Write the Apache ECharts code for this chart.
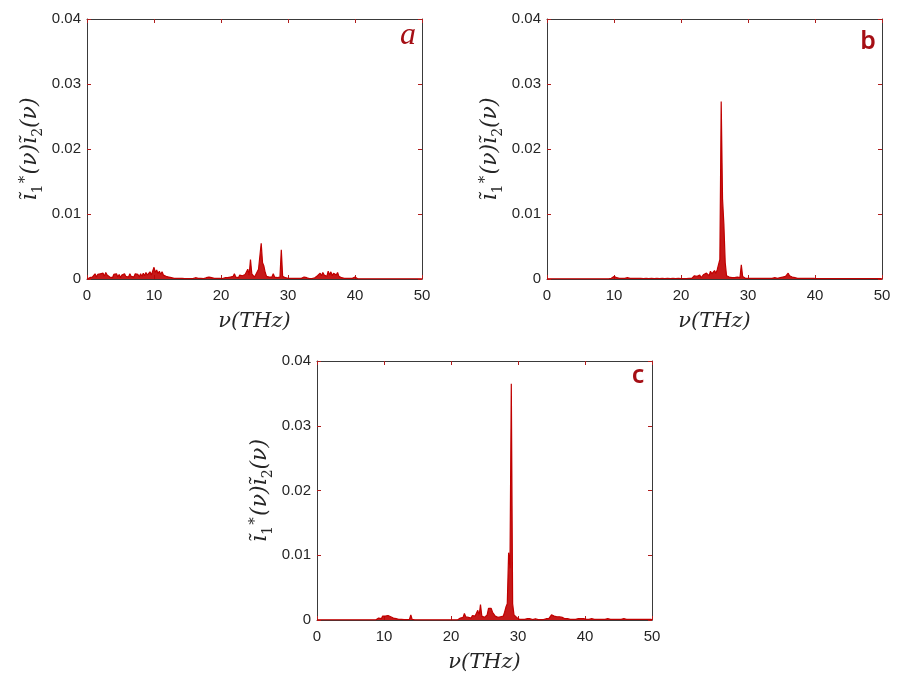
<!DOCTYPE html>
<html><head><meta charset="utf-8">
<script src="https://cdn.jsdelivr.net/npm/echarts@6/dist/echarts.min.js"></script>
<style>html,body{margin:0;padding:0;background:#fff}#c{width:899px;height:681px}</style>
</head><body><div id="c"></div><script>
// Frequency grid (THz)
const freq = [
0,0.2,0.4,0.6,0.8,1,1.2,1.4,1.6,1.8,
2,2.2,2.4,2.6,2.8,3,3.2,3.4,3.6,3.8,
4,4.2,4.4,4.6,4.8,5,5.2,5.4,5.6,5.8,
6,6.2,6.4,6.6,6.8,7,7.2,7.4,7.6,7.8,
8,8.2,8.4,8.6,8.8,9,9.2,9.4,9.6,9.8,
10,10.2,10.4,10.6,10.8,11,11.2,11.4,11.6,11.8,
12,12.2,12.4,12.6,12.8,13,13.2,13.4,13.6,13.8,
14,14.2,14.4,14.6,14.8,15,15.2,15.4,15.6,15.8,
16,16.2,16.4,16.6,16.8,17,17.2,17.4,17.6,17.8,
18,18.2,18.4,18.6,18.8,19,19.2,19.4,19.6,19.8,
20,20.2,20.4,20.6,20.8,21,21.2,21.4,21.6,21.8,
22,22.2,22.4,22.6,22.8,23,23.2,23.4,23.6,23.8,
24,24.2,24.4,24.6,24.8,25,25.2,25.4,25.6,25.8,
26,26.2,26.4,26.6,26.8,27,27.2,27.4,27.6,27.8,
28,28.2,28.4,28.6,28.8,29,29.2,29.4,29.6,29.8,
30,30.2,30.4,30.6,30.8,31,31.2,31.4,31.6,31.8,
32,32.2,32.4,32.6,32.8,33,33.2,33.4,33.6,33.8,
34,34.2,34.4,34.6,34.8,35,35.2,35.4,35.6,35.8,
36,36.2,36.4,36.6,36.8,37,37.2,37.4,37.6,37.8,
38,38.2,38.4,38.6,38.8,39,39.2,39.4,39.6,39.8,
40,40.2,40.4,40.6,40.8,41,41.2,41.4,41.6,41.8,
42,42.2,42.4,42.6,42.8,43,43.2,43.4,43.6,43.8,
44,44.2,44.4,44.6,44.8,45,45.2,45.4,45.6,45.8,
46,46.2,46.4,46.6,46.8,47,47.2,47.4,47.6,47.8,
48,48.2,48.4,48.6,48.8,49,49.2,49.4,49.6,49.8,
50];

// Panel a values
const ampA = [
0,1e-4,2e-4,1e-4,3e-4,5e-4,8e-4,3e-4,7e-4,4e-4,
8e-4,5e-4,9e-4,4e-4,10e-4,6e-4,9e-4,3e-4,6e-4,2e-4,
7e-4,4e-4,8e-4,3e-4,7e-4,2e-4,6e-4,3e-4,8e-4,4e-4,
7e-4,3e-4,8e-4,4e-4,7e-4,3e-4,8e-4,5e-4,7e-4,3e-4,
8e-4,4e-4,9e-4,5e-4,10e-4,6e-4,8e-4,11e-4,6e-4,12e-4,
18e-4,10e-4,14e-4,8e-4,12e-4,7e-4,11e-4,6e-4,9e-4,4e-4,
6e-4,3e-4,4e-4,2e-4,3e-4,1e-4,2e-4,1e-4,2e-4,1e-4,
3e-4,1e-4,2e-4,0.5e-4,1e-4,0.5e-4,1e-4,0.5e-4,1e-4,0.5e-4,
1e-4,2e-4,0.5e-4,1e-4,0.5e-4,1e-4,2e-4,0.5e-4,1e-4,2e-4,
1e-4,3e-4,1e-4,2e-4,4e-4,1e-4,2e-4,1e-4,2e-4,1e-4,
1e-4,0.5e-4,1e-4,2e-4,1e-4,2e-4,1e-4,3e-4,2e-4,4e-4,
8e-4,3e-4,5e-4,2e-4,6e-4,3e-4,5e-4,4e-4,7e-4,10e-4,
15e-4,6e-4,30e-4,8e-4,5e-4,3e-4,7e-4,10e-4,15e-4,12e-4,
55e-4,25e-4,20e-4,10e-4,4e-4,2e-4,3e-4,5e-4,3e-4,8e-4,
3e-4,5e-4,2e-4,4e-4,3e-4,45e-4,4e-4,1e-4,2e-4,1e-4,
1e-4,0.5e-4,1e-4,0.5e-4,1e-4,0.5e-4,1e-4,0.5e-4,1e-4,0.5e-4,
1e-4,2e-4,3e-4,1e-4,2e-4,1e-4,0.5e-4,1e-4,0.5e-4,1e-4,
2e-4,3e-4,5e-4,4e-4,9e-4,5e-4,10e-4,6e-4,8e-4,4e-4,
12e-4,6e-4,11e-4,5e-4,9e-4,12e-4,6e-4,10e-4,4e-4,3e-4,
2e-4,3e-4,1e-4,2e-4,1e-4,3e-4,1e-4,2e-4,1e-4,2e-4,
3e-4,0.5e-4,0.3e-4,0.5e-4,0.3e-4,0.5e-4,0.3e-4,0.5e-4,0.3e-4,0.5e-4,
0.3e-4,0.5e-4,0.3e-4,0.5e-4,0.3e-4,0.6e-4,0.3e-4,0.5e-4,0.3e-4,0.5e-4,
0.3e-4,0.5e-4,0.4e-4,0.5e-4,0.3e-4,0.5e-4,0.3e-4,0.6e-4,0.3e-4,0.5e-4,
0.3e-4,0.5e-4,0.3e-4,0.5e-4,0.4e-4,0.5e-4,0.3e-4,0.5e-4,0.3e-4,0.5e-4,
0.3e-4,0.6e-4,0.3e-4,0.5e-4,0.3e-4,0.5e-4,0.3e-4,0.5e-4,0.4e-4,0.5e-4,
0.3e-4];

// Panel b values
const ampB = [
0.3e-4,0.5e-4,0.3e-4,0.5e-4,0.3e-4,0.5e-4,0.3e-4,0.5e-4,0.3e-4,0.5e-4,
0.3e-4,0.6e-4,0.3e-4,0.5e-4,0.3e-4,0.5e-4,0.4e-4,0.5e-4,0.3e-4,0.5e-4,
0.3e-4,0.5e-4,0.3e-4,0.6e-4,0.3e-4,0.5e-4,0.3e-4,0.5e-4,0.3e-4,0.6e-4,
0.3e-4,0.5e-4,0.4e-4,0.5e-4,0.3e-4,0.5e-4,0.3e-4,0.5e-4,0.3e-4,0.5e-4,
0.4e-4,0.5e-4,0.3e-4,0.5e-4,0.3e-4,0.6e-4,0.3e-4,0.5e-4,1e-4,0.5e-4,
4e-4,1e-4,2e-4,1e-4,1e-4,0.5e-4,1e-4,0.5e-4,1e-4,0.5e-4,
2e-4,0.5e-4,1e-4,0.5e-4,1e-4,0.5e-4,1e-4,0.5e-4,1e-4,0.5e-4,
1e-4,0.5e-4,0.8e-4,0.5e-4,1e-4,0.5e-4,0.8e-4,0.5e-4,1e-4,0.5e-4,
0.8e-4,0.5e-4,1e-4,0.5e-4,0.8e-4,0.5e-4,1e-4,0.5e-4,0.8e-4,0.5e-4,
1e-4,0.5e-4,0.8e-4,0.5e-4,1e-4,0.5e-4,0.8e-4,0.5e-4,1e-4,0.5e-4,
0.5e-4,1e-4,0.5e-4,1e-4,0.5e-4,1e-4,1e-4,2e-4,1e-4,3e-4,
5e-4,2e-4,4e-4,3e-4,6e-4,2e-4,5e-4,7e-4,4e-4,9e-4,
10e-4,5e-4,12e-4,8e-4,11e-4,13e-4,9e-4,14e-4,15e-4,30e-4,
273e-4,123e-4,84e-4,25e-4,5e-4,2e-4,3e-4,1e-4,2e-4,1e-4,
2e-4,1e-4,3e-4,2e-4,2e-4,22e-4,4e-4,2e-4,1e-4,1e-4,
1e-4,0.5e-4,1e-4,0.5e-4,1e-4,0.5e-4,1e-4,0.5e-4,1e-4,0.5e-4,
1e-4,0.5e-4,1e-4,2e-4,1e-4,0.5e-4,1e-4,0.5e-4,1e-4,0.5e-4,
2e-4,3e-4,1e-4,3e-4,2e-4,4e-4,3e-4,5e-4,4e-4,6e-4,
9e-4,5e-4,6e-4,3e-4,4e-4,2e-4,3e-4,1e-4,2e-4,1e-4,
2e-4,1e-4,2e-4,1e-4,3e-4,1e-4,2e-4,1e-4,2e-4,1e-4,
4e-4,0.5e-4,0.3e-4,0.5e-4,0.3e-4,0.5e-4,0.3e-4,0.5e-4,0.3e-4,0.5e-4,
0.3e-4,0.5e-4,0.3e-4,0.5e-4,0.3e-4,0.6e-4,0.3e-4,0.5e-4,0.3e-4,0.5e-4,
0.3e-4,0.5e-4,0.4e-4,0.5e-4,0.3e-4,0.5e-4,0.3e-4,0.6e-4,0.3e-4,0.5e-4,
0.3e-4,0.5e-4,0.3e-4,0.5e-4,0.4e-4,0.5e-4,0.3e-4,0.5e-4,0.3e-4,0.5e-4,
0.3e-4,0.6e-4,0.3e-4,0.5e-4,0.3e-4,0.5e-4,0.3e-4,0.5e-4,0.4e-4,0.5e-4,
0.3e-4];

// Panel c values
const ampC = [
0.3e-4,0.5e-4,0.3e-4,0.5e-4,0.3e-4,1e-4,0.3e-4,0.5e-4,0.3e-4,0.5e-4,
0.3e-4,0.5e-4,0.4e-4,0.5e-4,0.3e-4,0.6e-4,0.3e-4,0.5e-4,0.3e-4,0.5e-4,
0.3e-4,0.5e-4,0.3e-4,0.5e-4,0.4e-4,0.5e-4,0.3e-4,0.5e-4,0.3e-4,0.6e-4,
0.3e-4,0.5e-4,0.3e-4,0.5e-4,0.3e-4,0.5e-4,0.4e-4,0.5e-4,0.3e-4,0.5e-4,
0.3e-4,0.5e-4,0.3e-4,0.6e-4,0.3e-4,1e-4,3e-4,5e-4,2e-4,6e-4,
4e-4,6e-4,3e-4,7e-4,8e-4,5e-4,6e-4,3e-4,4e-4,2e-4,
2e-4,1e-4,2e-4,1e-4,1e-4,0.5e-4,1e-4,0.5e-4,2e-4,1e-4,
8e-4,1e-4,0.5e-4,0.3e-4,0.5e-4,0.3e-4,0.5e-4,0.3e-4,0.5e-4,0.3e-4,
0.5e-4,0.3e-4,0.5e-4,0.3e-4,0.6e-4,0.3e-4,0.5e-4,0.3e-4,0.5e-4,0.3e-4,
0.5e-4,0.3e-4,0.5e-4,0.3e-4,0.5e-4,0.3e-4,0.6e-4,0.3e-4,0.5e-4,0.3e-4,
0.5e-4,0.3e-4,0.5e-4,0.3e-4,0.5e-4,0.3e-4,0.5e-4,3e-4,6e-4,4e-4,
10e-4,5e-4,8e-4,4e-4,6e-4,3e-4,7e-4,4e-4,6e-4,5e-4,
15e-4,7e-4,24e-4,6e-4,7e-4,4e-4,5e-4,8e-4,18e-4,16e-4,
18e-4,12e-4,15e-4,6e-4,5e-4,4e-4,7e-4,5e-4,8e-4,6e-4,
12e-4,20e-4,25e-4,104e-4,80e-4,365e-4,25e-4,8e-4,6e-4,4e-4,
2e-4,1e-4,3e-4,1e-4,2e-4,1e-4,3e-4,2e-4,1e-4,2e-4,
1e-4,0.5e-4,1e-4,2e-4,1e-4,0.5e-4,1e-4,0.5e-4,1e-4,0.5e-4,
1e-4,2e-4,3e-4,2e-4,4e-4,8e-4,5e-4,6e-4,4e-4,5e-4,
3e-4,5e-4,7e-4,4e-4,6e-4,2e-4,5e-4,2e-4,3e-4,1e-4,
2e-4,1e-4,2e-4,1e-4,1e-4,2e-4,1e-4,2e-4,1e-4,2e-4,
3e-4,1e-4,0.5e-4,1e-4,0.5e-4,2e-4,0.5e-4,1e-4,0.5e-4,1e-4,
0.5e-4,1e-4,0.5e-4,1e-4,0.5e-4,1e-4,0.5e-4,2e-4,0.5e-4,1e-4,
0.5e-4,1e-4,0.5e-4,1e-4,0.5e-4,1e-4,0.5e-4,1e-4,0.5e-4,2e-4,
0.5e-4,1e-4,0.5e-4,1e-4,0.5e-4,1e-4,0.5e-4,1e-4,0.5e-4,1e-4,
0.5e-4,1e-4,0.5e-4,1e-4,0.5e-4,1e-4,0.5e-4,1e-4,0.5e-4,1e-4,
0.5e-4];

const xTicks = {min: 0, max: 50, interval: 10};
const yTicks = {min: 0, max: 0.04, interval: 0.01};
const xName = 'ν(THz)';
const yName = '{m|ĩ}{sb|1}{sp|∗}{m|(ν)ĩ}{sb|2}{m|(ν)}';
const panelLabels = ['a', 'b', 'c'];

const chart = echarts.init(document.getElementById('c'), null, {renderer: 'canvas'});
const grids = [
  {left: 87, top: 19, width: 335, height: 260},
  {left: 547, top: 19, width: 335, height: 260},
  {left: 317, top: 361, width: 335, height: 259}
];
const amps = [ampA, ampB, ampC];
const lineCol = '#c00000';
const boxCol = '#3a3a3a';
const tickCol = '#b01c1c';
const txtCol = '#262626';
const mathFont = 'DejaVu Serif';

const xAxes = [], yAxes = [], series = [];
grids.forEach((g, p) => {
  const common = {
    gridIndex: p, type: 'value',
    axisLine: {show: true, onZero: false, lineStyle: {color: boxCol, width: 1}},
    axisTick: {show: true, inside: true, length: 4, lineStyle: {color: tickCol, width: 1}},
    splitLine: {show: false}
  };
  xAxes.push(Object.assign({}, common, xTicks, {
    position: 'bottom',
    axisLabel: {color: txtCol, fontSize: 15, fontFamily: 'Liberation Sans', margin: 9},
    name: xName, nameLocation: 'middle', nameGap: 32,
    nameTextStyle: {color: txtCol, fontSize: 21, fontStyle: 'italic', fontFamily: mathFont}
  }));
  xAxes.push(Object.assign({}, common, xTicks, {position: 'top', axisLabel: {show: false}}));
  yAxes.push(Object.assign({}, common, yTicks, {
    position: 'left',
    axisLabel: {color: txtCol, fontSize: 15, fontFamily: 'Liberation Sans', margin: 6},
    name: yName, nameLocation: 'middle', nameGap: 42, nameRotate: 90,
    nameTextStyle: {
      color: txtCol, fontSize: 21, fontFamily: mathFont, fontStyle: 'italic',
      rich: {
        m: {fontSize: 22, fontFamily: mathFont, fontStyle: 'italic', color: txtCol, lineHeight: 30, verticalAlign: 'middle'},
        sb: {fontSize: 14, fontFamily: mathFont, fontStyle: 'normal', color: txtCol, lineHeight: 30, verticalAlign: 'bottom'},
        sp: {fontSize: 15, fontFamily: mathFont, fontStyle: 'normal', color: txtCol, lineHeight: 30, verticalAlign: 'top'}
      }
    }
  }));
  yAxes.push(Object.assign({}, common, yTicks, {position: 'right', axisLabel: {show: false}}));
  series.push({
    type: 'line', xAxisIndex: 2 * p, yAxisIndex: 2 * p,
    data: freq.map((f, k) => [f, amps[p][k]]),
    showSymbol: false, symbol: 'none', clip: true,
    lineStyle: {color: lineCol, width: 1.2}, itemStyle: {color: lineCol},
    areaStyle: {color: lineCol, opacity: 0.9},
    animation: false, silent: true, z: 1
  });
});

const graphic = [
  {type: 'text', x: 408, y: 36, style: {text: panelLabels[0], font: 'italic 32px "Liberation Serif"', fill: '#a50f15', align: 'center', verticalAlign: 'middle', textAlign: 'center', textVerticalAlign: 'middle'}},
  {type: 'text', x: 868, y: 42, style: {text: panelLabels[1], font: '600 25px "Noto Sans"', fill: '#a50f15', align: 'center', verticalAlign: 'middle', textAlign: 'center', textVerticalAlign: 'middle'}},
  {type: 'text', x: 638, y: 376, style: {text: panelLabels[2], font: '600 25px "Noto Sans"', fill: '#a50f15', align: 'center', verticalAlign: 'middle', textAlign: 'center', textVerticalAlign: 'middle'}}
];

chart.setOption({
  animation: false,
  backgroundColor: '#ffffff',
  grid: grids,
  xAxis: xAxes,
  yAxis: yAxes,
  series: series,
  graphic: graphic
});
</script></body></html>
